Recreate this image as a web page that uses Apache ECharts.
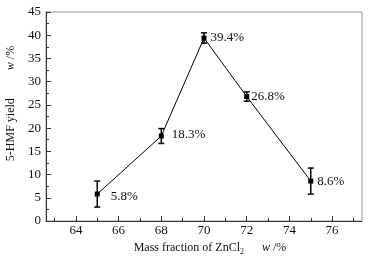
<!DOCTYPE html>
<html>
<head>
<meta charset="utf-8">
<script src="https://cdn.jsdelivr.net/npm/echarts@6/dist/echarts.min.js"></script>
<style>
  html, body { margin: 0; padding: 0; background: #fff; }
  #chart { width: 369px; height: 257px; }
</style>
</head>
<body>
<div id="chart"></div>
<script>
// 数据
var massFraction = [65, 68, 70, 72, 75]
var yieldValues = [5.8, 18.3, 39.4, 26.8, 8.6]
var yieldErrors = [2.8, 1.6, 1.1, 1.0, 2.8]
var xMajorTicks = [64, 66, 68, 70, 72, 74, 76]
var xMinorTicks = [63, 65, 67, 69, 71, 73, 75, 77]

// 标签偏移（样式）
var labelOffsets = [[11, 3], [8, -1], [4, 0], [2, 0], [4, 1]]

var fontFamily = '"Liberation Serif", "Times New Roman", serif'
var axisColor = '#333'
var fontSize = 13
var nameSize = 12

var myChart = echarts.init(document.getElementById('chart'))

var lineData = massFraction.map(function (x, i) {
  return {
    value: [x, yieldValues[i]],
    label: { offset: labelOffsets[i] }
  }
})

var errData = massFraction.map(function (x, i) {
  return [x, yieldValues[i] - yieldErrors[i], yieldValues[i] + yieldErrors[i]]
})

var option = {
  animation: false,
  textStyle: { fontFamily: fontFamily },
  grid: {
    left: 46,
    right: 7,
    top: 12,
    bottom: 36,
    outerBoundsMode: 'none',
    containLabel: false,
    show: true,
    borderColor: '#999',
    borderWidth: 1
  },
  xAxis: [{
    type: 'value',
    min: 62.6,
    max: 77.4,
    name: '{t|Mass fraction of ZnCl}{sub|2}{g| }{i|w} /%',
    nameLocation: 'middle',
    nameGap: 19,
    nameTextStyle: {
      color: '#111',
      fontSize: nameSize,
      fontFamily: fontFamily,
      padding: [0, 0, 0, 12],
      rich: {
        t: { fontSize: nameSize, fontFamily: fontFamily, color: '#111' },
        sub: { fontSize: 8, fontFamily: fontFamily, color: '#111', padding: [8, 0, 0, 0] },
        g: { fontSize: nameSize, width: 18 },
        i: { fontSize: nameSize, fontFamily: fontFamily, fontStyle: 'italic', color: '#111' }
      }
    },
    axisLine: { show: true, onZero: false, lineStyle: { color: axisColor, width: 1 } },
    axisTick: { show: true, inside: true, length: 5, customValues: xMajorTicks, lineStyle: { color: axisColor } },
    axisLabel: { customValues: xMajorTicks, color: '#111', fontSize: fontSize, margin: 3 },
    splitLine: { show: false }
  }, {
    type: 'value',
    position: 'bottom',
    min: 62.6,
    max: 77.4,
    axisLine: { show: false },
    axisTick: { show: true, inside: true, length: 3, customValues: xMinorTicks, lineStyle: { color: axisColor } },
    axisLabel: { show: false },
    splitLine: { show: false }
  }],
  yAxis: {
    type: 'value',
    min: 0,
    max: 45,
    interval: 5,
    name: '{t|5-HMF yield}{g| }{i|w} /%',
    nameLocation: 'middle',
    nameGap: 24,
    nameTextStyle: {
      color: '#111',
      fontSize: nameSize,
      fontFamily: fontFamily,
      padding: [0, 0, 0, 26],
      rich: {
        t: { fontSize: nameSize, fontFamily: fontFamily, color: '#111' },
        g: { fontSize: nameSize, width: 28 },
        i: { fontSize: nameSize, fontFamily: fontFamily, fontStyle: 'italic', color: '#111' }
      }
    },
    axisLine: { show: true, lineStyle: { color: axisColor, width: 1 } },
    axisTick: { show: true, inside: true, length: 5, lineStyle: { color: axisColor } },
    minorTick: { show: true, splitNumber: 2, length: 3, lineStyle: { color: axisColor } },
    axisLabel: { color: '#111', fontSize: fontSize, margin: 5 },
    splitLine: { show: false }
  },
  series: [{
    name: 'yield',
    type: 'line',
    xAxisIndex: 0,
    data: lineData,
    symbol: 'rect',
    symbolSize: 5,
    itemStyle: { color: '#000' },
    lineStyle: { color: '#000', width: 1 },
    label: {
      show: true,
      position: 'right',
      distance: 0,
      color: '#111',
      fontSize: fontSize,
      fontFamily: fontFamily,
      formatter: function (p) { return p.value[1].toFixed(1) + '%' }
    },
    z: 3
  }, {
    name: 'error',
    type: 'custom',
    xAxisIndex: 0,
    data: errData,
    renderItem: function (params, api) {
      var x = api.value(0)
      var low = api.coord([x, api.value(1)])
      var high = api.coord([x, api.value(2)])
      var cap = 3
      var style = { stroke: '#000', lineWidth: 1.5 }
      return {
        type: 'group',
        children: [
          { type: 'line', shape: { x1: low[0], y1: low[1], x2: high[0], y2: high[1] }, style: style },
          { type: 'line', shape: { x1: low[0] - cap, y1: low[1], x2: low[0] + cap, y2: low[1] }, style: style },
          { type: 'line', shape: { x1: high[0] - cap, y1: high[1], x2: high[0] + cap, y2: high[1] }, style: style }
        ]
      }
    },
    z: 2
  }]
}

myChart.setOption(option)
</script>
</body>
</html>
